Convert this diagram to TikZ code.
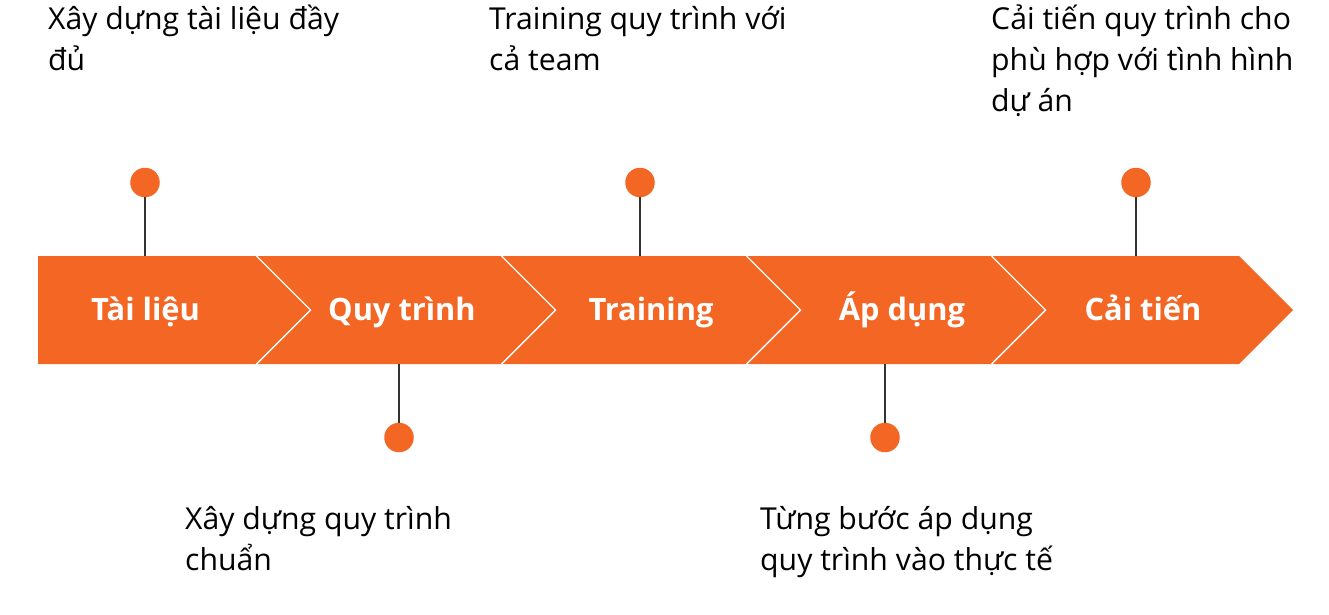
\documentclass[tikz,border=0pt]{standalone}
\usepackage{fontspec}
\setmainfont{Open Sans}
\definecolor{orng}{HTML}{F36624}
\definecolor{stem}{HTML}{333333}
\begin{document}
\begin{tikzpicture}[x=1pt,y=-1pt,
  band/.style={fill=orng,draw=none},
  sep/.style={draw=white,line width=1.4pt},
  dot/.style={circle,fill=orng,draw=none,minimum size=29.5pt,inner sep=0pt},
  stemline/.style={draw=stem,line width=1.2pt},
  step label/.style={text=white,font=\fontsize{30.8}{36}\selectfont\bfseries,anchor=base,inner sep=0pt},
  desc/.style={anchor=base west,inner sep=0pt,font=\fontsize{30.2}{41}\selectfont}]
\useasboundingbox (0,0) rectangle (1329,614);
% band
\path[band] (38,256) -- (1239,256) -- (1293,310) -- (1239,364) -- (38,364) -- cycle;
\foreach \x in {256.5,501.5,746.5,991.5}{
  \draw[sep] (\x,256) -- (\x+54,310) -- (\x,364);
}
% step labels
\node[step label] (s1) at (145.5,320) {Tài liệu};
\node[step label] (s2) at (402,320) {Quy trình};
\node[step label] (s3) at (651,320) {Training};
\node[step label] (s4) at (902,320) {Áp dụng};
\node[step label] (s5) at (1143,320) {Cải tiến};
% dots and stems
\node[dot] (d1) at (145,182.5) {};
\node[dot] (d3) at (640,182.5) {};
\node[dot] (d5) at (1136,182.5) {};
\node[dot] (d2) at (399,437.5) {};
\node[dot] (d4) at (885,437.5) {};
\coordinate (b1) at (145,256);
\coordinate (b3) at (640,256);
\coordinate (b5) at (1136,256);
\coordinate (b2) at (399,364);
\coordinate (b4) at (885,364);
\draw[stemline] (d1.south) -- (b1);
\draw[stemline] (d3.south) -- (b3);
\draw[stemline] (d5.south) -- (b5);
\draw[stemline] (d2.north) -- (b2);
\draw[stemline] (d4.north) -- (b4);
% descriptions
\node[desc] (t1) at (48,29) {\begin{tabular}[t]{@{}l@{}}Xây dựng tài liệu đầy\\ đủ\end{tabular}};
\node[desc] (t3) at (489,29) {\begin{tabular}[t]{@{}l@{}}Training quy trình với\\ cả team\end{tabular}};
\node[desc] (t5) at (991,29) {\begin{tabular}[t]{@{}l@{}}Cải tiến quy trình cho\\ phù hợp với tình hình\\ dự án\end{tabular}};
\node[desc] (t2) at (185,529) {\begin{tabular}[t]{@{}l@{}}Xây dựng quy trình\\ chuẩn\end{tabular}};
\node[desc] (t4) at (760,529) {\begin{tabular}[t]{@{}l@{}}Từng bước áp dụng\\ quy trình vào thực tế\end{tabular}};
\end{tikzpicture}
\end{document}
